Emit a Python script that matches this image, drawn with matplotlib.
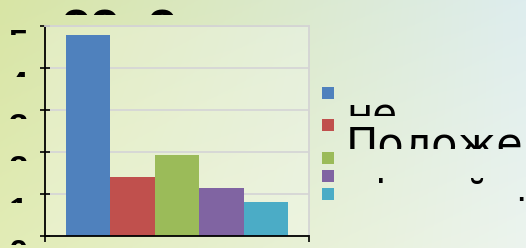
import numpy as np
import matplotlib
matplotlib.use("Agg")
import matplotlib.pyplot as plt
from matplotlib import transforms as mtrans
from matplotlib.patches import Rectangle

# ---- data ----
series = ["не", "Положе", "", "ні, цей", "важко відповісти"]
values = [4.79, 1.40, 1.93, 1.14, 0.81]
colors = ["#4f81bd", "#c0504d", "#9bbb59", "#8064a2", "#4bacc6"]
yticks = [0, 1, 2, 3, 4, 5]
title = "оо  о"

plt.rcParams["font.family"] = ["DejaVu Sans"]

W, H = 526, 248
fig = plt.figure(figsize=(W / 100, H / 100), dpi=100)

# background gradient
bg = fig.add_axes([0, 0, 1, 1], zorder=-10)
xs = np.linspace(0, 1, 300)
ys = np.linspace(0, 1, 150)
X, Y = np.meshgrid(xs, ys)
TL = np.array([216, 229, 165]); TR = np.array([222, 237, 238])
BL = np.array([226, 236, 182]); BR = np.array([236, 244, 238])
img = (((1 - X) * (1 - Y))[..., None] * TL + (X * (1 - Y))[..., None] * TR
       + ((1 - X) * Y)[..., None] * BL + (X * Y)[..., None] * BR)
bg.imshow(img / 255, aspect="auto", extent=[0, 1, 0, 1], origin="upper")
bg.axis("off")

# main axes
ax = fig.add_axes([45 / W, (H - 236) / H, 264 / W, 210 / H])
ax.set_facecolor((1, 1, 1, 0.25))
n = len(values)
group = 0.84
w = group / n
for i, (v, c) in enumerate(zip(values, colors)):
    ax.bar((i - (n - 1) / 2) * w, v, width=w, color=c, zorder=2)
ax.set_xlim(-0.5, 0.5)
ax.set_ylim(yticks[0], yticks[-1])
ax.set_yticks(yticks)
ax.yaxis.grid(True, color="#d6d6d6", lw=1.3)
ax.set_axisbelow(True)
ax.tick_params(axis="y", direction="inout", length=6.5, width=1.2, labelleft=False)
ax.set_xticks([-0.5, 0.5])
ax.tick_params(axis="x", direction="out", length=4, width=1.2, labelbottom=False)
for s in ["left", "bottom"]:
    ax.spines[s].set_color("black")
    ax.spines[s].set_linewidth(1.3)
for s in ["top", "right"]:
    ax.spines[s].set_color("#d4d4d4")
    ax.spines[s].set_linewidth(1.3)

# helper: pixel (from top) transform
pix = mtrans.Affine2D().scale(1, -1).translate(0, H)


def clipbox(x0, y0, x1, y1):
    return mtrans.Bbox.from_extents(x0, H - y1, x1, H - y0)


# y tick labels: huge, only a sliver visible
for t in yticks:
    ty = H - ax.transData.transform((0, t))[1]
    txt = fig.text(28, ty + 28, str(t), transform=pix, ha="right", va="baseline",
                   fontsize=25, fontweight="bold", family=["Liberation Sans"])
    txt.set_clip_on(True)
    txt.set_clip_box(clipbox(0, ty + 3, 42, ty + 9))

# title (mostly out of view)
tt = fig.text(62, 33, title, transform=pix, ha="left", va="baseline", fontsize=30,
              fontweight="bold")
tt.set_clip_on(True)
tt.set_clip_box(clipbox(0, 8, W, 15))

# legend
sq_y = [87, 119, 152, 170, 188]
lab_base = [127, 157, 190, 209, 227]
lab_size = [29, 31, 29, 29, 29]
lab_x = [346, 346, 346, 349, 346]
lab_clip = [(104, 116), (126, 149), (0, 0), (178, 184), (196, 201)]
for i, lab in enumerate(series):
    fig.patches.append(Rectangle((322, sq_y[i]), 12, 12, transform=pix,
                                 facecolor=colors[i], edgecolor="none"))
    if lab:
        lt = fig.text(lab_x[i], lab_base[i], lab, transform=pix, ha="left",
                      va="baseline", fontsize=lab_size[i])
        lt.set_clip_on(True)
        c0, c1 = lab_clip[i]
        lt.set_clip_box(clipbox(340, c0, W, c1))

fig.savefig("out.png", dpi=100)
